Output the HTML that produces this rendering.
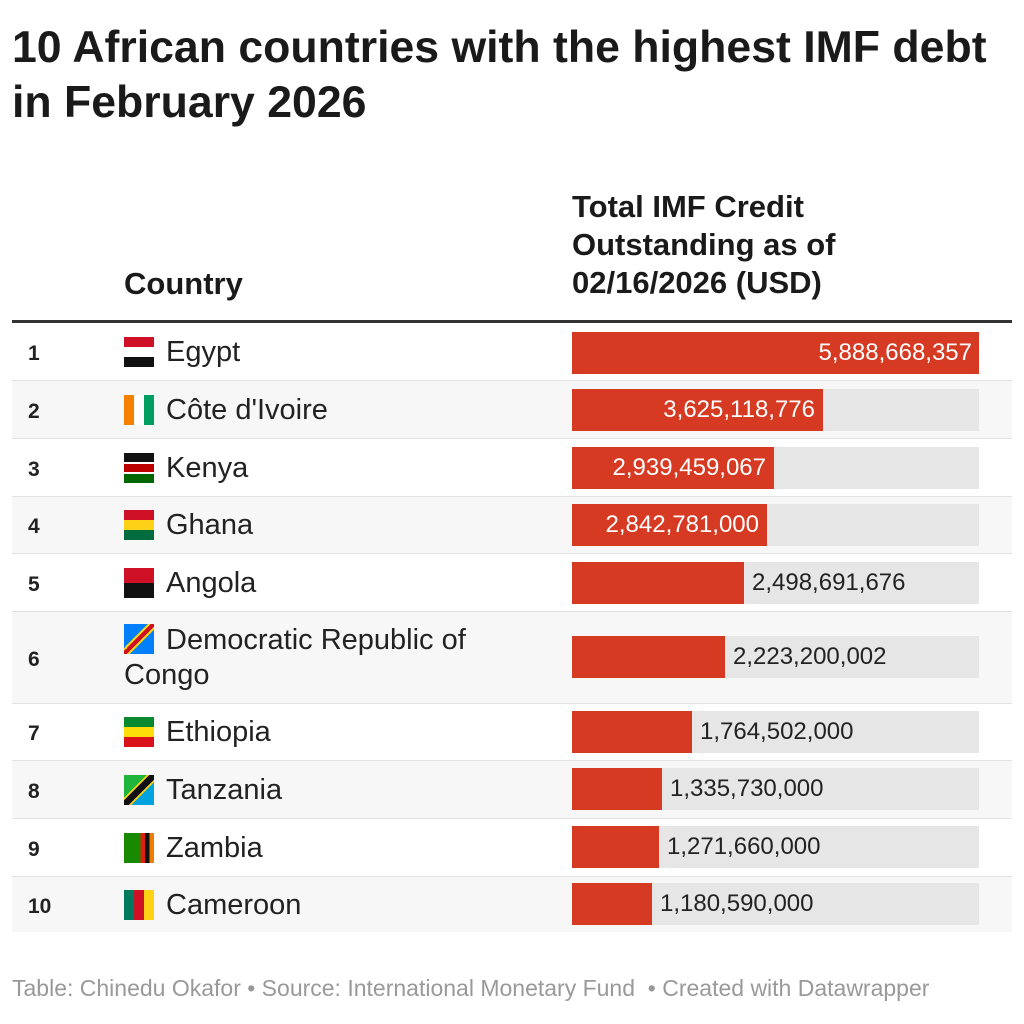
<!DOCTYPE html>
<html><head><meta charset="utf-8"><style>
body{margin:0;width:1024px;height:1024px;background:#fff;font-family:"Liberation Sans",sans-serif;color:#222;position:relative;overflow:hidden}
.a{position:absolute}
.t{left:12px;top:20px;font-size:44.6px;font-weight:bold;line-height:55px;color:#1a1a1a;white-space:nowrap}
.h{font-size:31px;font-weight:bold;line-height:38px;color:#1a1a1a;white-space:nowrap}
.row{position:absolute;left:12px;width:1000px;border-bottom:1px solid #e2e2e2}
.rk{position:absolute;left:16px;font-size:21px;font-weight:bold}
.cn{position:absolute;left:154px;font-size:29px;line-height:34px;white-space:nowrap}
.fl{position:absolute;left:112px;width:30px;height:30px}
.bg{position:absolute;left:560px;width:407px;height:42px;background:#e6e6e6}
.br{position:absolute;left:0;top:0;height:42px;background:#d63a22}
.v{position:absolute;font-size:24px;line-height:42px;top:0;white-space:nowrap}
</style></head><body>
<div class="a t">10 African countries with the highest IMF debt<br>in February 2026</div>
<div class="a h" style="left:124px;top:265px">Country</div>
<div class="a h" style="left:572px;top:188px">Total IMF Credit<br>Outstanding as of<br>02/16/2026 (USD)</div>
<div class="a" style="left:12px;top:320px;width:1000px;height:3px;background:#333"></div>

<div class="row" style="top:323px;height:57px;background:#fff">
<div class="rk" style="top:19px">1</div>
<div class="fl" style="top:14px;background:linear-gradient(#ce1126 0 33%,#fff 33% 66%,#111 66%)"></div>
<div class="cn" style="top:12px">Egypt</div>
<div class="bg" style="top:9px"><div class="br" style="width:407px"></div><div class="v" style="right:7px;color:#fff">5,888,668,357</div></div>
</div>
<div class="row" style="top:381px;height:57px;background:#f7f7f7">
<div class="rk" style="top:19px">2</div>
<div class="fl" style="top:14px;background:linear-gradient(90deg,#f77f00 0 33%,#fff 33% 66%,#009e60 66%)"></div>
<div class="cn" style="top:12px">Côte d'Ivoire</div>
<div class="bg" style="top:8px"><div class="br" style="width:251px"></div><div class="v" style="right:164px;color:#fff">3,625,118,776</div></div>
</div>
<div class="row" style="top:439px;height:57px;background:#fff">
<div class="rk" style="top:19px">3</div>
<div class="fl" style="top:14px;background:linear-gradient(#111 0 30%,#fff 30% 36%,#bb0000 36% 64%,#fff 64% 70%,#006600 70%)"></div>
<div class="cn" style="top:12px">Kenya</div>
<div class="bg" style="top:8px"><div class="br" style="width:202px"></div><div class="v" style="right:213px;color:#fff">2,939,459,067</div></div>
</div>
<div class="row" style="top:497px;height:56px;background:#f7f7f7">
<div class="rk" style="top:18px">4</div>
<div class="fl" style="top:13px;background:linear-gradient(#ce1126 0 33%,#fcd116 33% 66%,#006b3f 66%)"></div>
<div class="cn" style="top:11px">Ghana</div>
<div class="bg" style="top:7px"><div class="br" style="width:195px"></div><div class="v" style="right:220px;color:#fff">2,842,781,000</div></div>
</div>
<div class="row" style="top:554px;height:57px;background:#fff">
<div class="rk" style="top:19px">5</div>
<div class="fl" style="top:14px;background:linear-gradient(#ce1126 0 50%,#111 50%)"></div>
<div class="cn" style="top:12px">Angola</div>
<div class="bg" style="top:8px"><div class="br" style="width:172px"></div><div class="v" style="left:180px;color:#222">2,498,691,676</div></div>
</div>
<div class="row" style="top:612px;height:91px;background:#f7f7f7">
<div class="rk" style="top:36px">6</div>
<div class="fl" style="top:12px;background:linear-gradient(135deg,#007fff 0 40%,#f7d618 40% 45%,#ce1021 45% 55%,#f7d618 55% 60%,#007fff 60%)"></div>
<div class="cn" style="top:11px">Democratic Republic of</div>
<div class="cn" style="left:112px;top:46px">Congo</div>
<div class="bg" style="top:24px"><div class="br" style="width:153px"></div><div class="v" style="left:161px;color:#222">2,223,200,002</div></div>
</div>
<div class="row" style="top:704px;height:56px;background:#fff">
<div class="rk" style="top:18px">7</div>
<div class="fl" style="top:13px;background:linear-gradient(#078930 0 33%,#fcdd09 33% 66%,#da121a 66%)"></div>
<div class="cn" style="top:11px">Ethiopia</div>
<div class="bg" style="top:7px"><div class="br" style="width:120px"></div><div class="v" style="left:128px;color:#222">1,764,502,000</div></div>
</div>
<div class="row" style="top:761px;height:57px;background:#f7f7f7">
<div class="rk" style="top:19px">8</div>
<div class="fl" style="top:14px;background:linear-gradient(135deg,#1eb53a 0 38%,#fcd116 38% 42%,#111 42% 58%,#fcd116 58% 62%,#00a3dd 62%)"></div>
<div class="cn" style="top:12px">Tanzania</div>
<div class="bg" style="top:7px"><div class="br" style="width:90px"></div><div class="v" style="left:98px;color:#222">1,335,730,000</div></div>
</div>
<div class="row" style="top:819px;height:57px;background:#fff">
<div class="rk" style="top:19px">9</div>
<div class="fl" style="top:14px;background:linear-gradient(90deg,#198a00 0 55%,#de2010 55% 70%,#111 70% 85%,#ef7d00 85%)"></div>
<div class="cn" style="top:12px">Zambia</div>
<div class="bg" style="top:7px"><div class="br" style="width:87px"></div><div class="v" style="left:95px;color:#222">1,271,660,000</div></div>
</div>
<div class="row" style="top:877px;height:55px;background:#f7f7f7;border-bottom:none">
<div class="rk" style="top:18px">10</div>
<div class="fl" style="top:13px;background:linear-gradient(90deg,#007a5e 0 33%,#ce1126 33% 66%,#fcd116 66%)"></div>
<div class="cn" style="top:11px">Cameroon</div>
<div class="bg" style="top:6px"><div class="br" style="width:80px"></div><div class="v" style="left:88px;color:#222">1,180,590,000</div></div>
</div>

<div class="a" style="left:12px;top:975px;font-size:23px;color:#999;white-space:nowrap">Table: Chinedu Okafor • Source: International Monetary Fund &nbsp;• Created with Datawrapper</div>
</body></html>
